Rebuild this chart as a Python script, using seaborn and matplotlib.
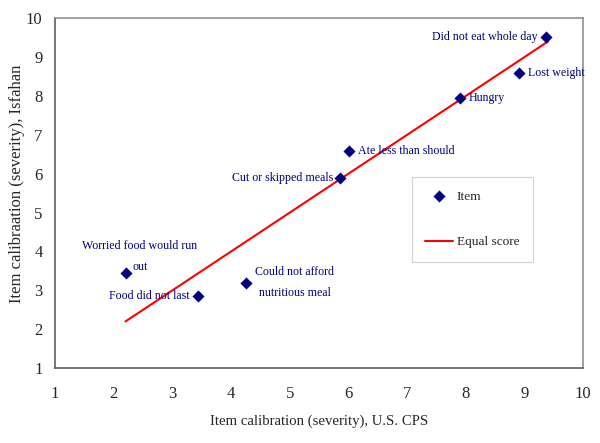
import numpy as np
import pandas as pd
import matplotlib
matplotlib.use("Agg")
import matplotlib.pyplot as plt
import seaborn as sns

# item calibrations
items = ["Did not eat whole day", "Lost weight", "Hungry", "Ate less than should",
         "Cut or skipped meals", "Worried food would run\nout", "Food did not last",
         "Could not afford\nnutritious meal"]
us_cps = [9.37, 8.91, 7.90, 6.01, 5.86, 2.21, 3.44, 4.26]
isfahan = [9.51, 8.59, 7.94, 6.58, 5.89, 3.44, 2.85, 3.19]
equal_line = [2.2, 9.4]

# label placement (offset in points, alignment)
label_off = [(-6, 0, "right"), (6, 0, "left"), (6.5, 0, "left"), (6.5, 0, "left"),
             (-5, 0, "right"), (10, 12, "center"), (-6, 0, "right"), (35, 0, "center")]

navy = "#00007f"

sns.set_style("white")
plt.rcParams["font.family"] = ["Liberation Serif", "DejaVu Serif"]

df = pd.DataFrame({"us": us_cps, "isf": isfahan, "item": items})

fig = plt.figure(figsize=(6, 4.43), dpi=100)
ax = fig.add_axes([0.0917, 0.169, 0.8803, 0.790])

sns.lineplot(x=equal_line, y=equal_line, color="red", linewidth=1.5,
             label="Equal score", ax=ax)
sns.scatterplot(data=df, x="us", y="isf", marker="D", s=38, color=navy,
                edgecolor=navy, linewidth=0, label="Item", ax=ax, zorder=3)

for x, y, t, (dx, dy, ha) in zip(us_cps, isfahan, items, label_off):
    ax.annotate(t, (x, y), xytext=(dx, dy), textcoords="offset points",
                ha=ha, va="center", multialignment="center",
                fontsize=8.6, color=navy, linespacing=2.0)

ax.set_xlim(1, 10)
ax.set_ylim(1, 10)
ax.set_xticks(range(1, 11))
ax.set_yticks(range(1, 11))
ax.tick_params(axis="both", labelsize=12, length=4, width=0.8, color="#808080",
               direction="out")
ax.tick_params(axis="x", pad=9)
ax.tick_params(axis="y", pad=5)
ax.set_xlabel("Item calibration (severity), U.S. CPS", fontsize=10.6, labelpad=9)
ax.set_ylabel("Item calibraation (severity), Isfahan", fontsize=12)
ax.yaxis.set_label_coords(-0.056, 0.526)

for s in ["top", "right"]:
    ax.spines[s].set_color("#909090")
    ax.spines[s].set_linewidth(1.2)
for s in ["left", "bottom"]:
    ax.spines[s].set_color("#606060")
    ax.spines[s].set_linewidth(1.2)

handles, labels = ax.get_legend_handles_labels()
order = [labels.index("Item"), labels.index("Equal score")]
leg = ax.legend([handles[i] for i in order], [labels[i] for i in order],
                loc="upper left", bbox_to_anchor=(0.676, 0.546), fontsize=9.6,
                frameon=True, fancybox=False, edgecolor="#c8c8c8",
                labelspacing=2.5, borderpad=1.0, borderaxespad=0,
                handlelength=2.1, handletextpad=0.25)
leg.get_frame().set_linewidth(0.8)

fig.savefig("out.png", dpi=100)
